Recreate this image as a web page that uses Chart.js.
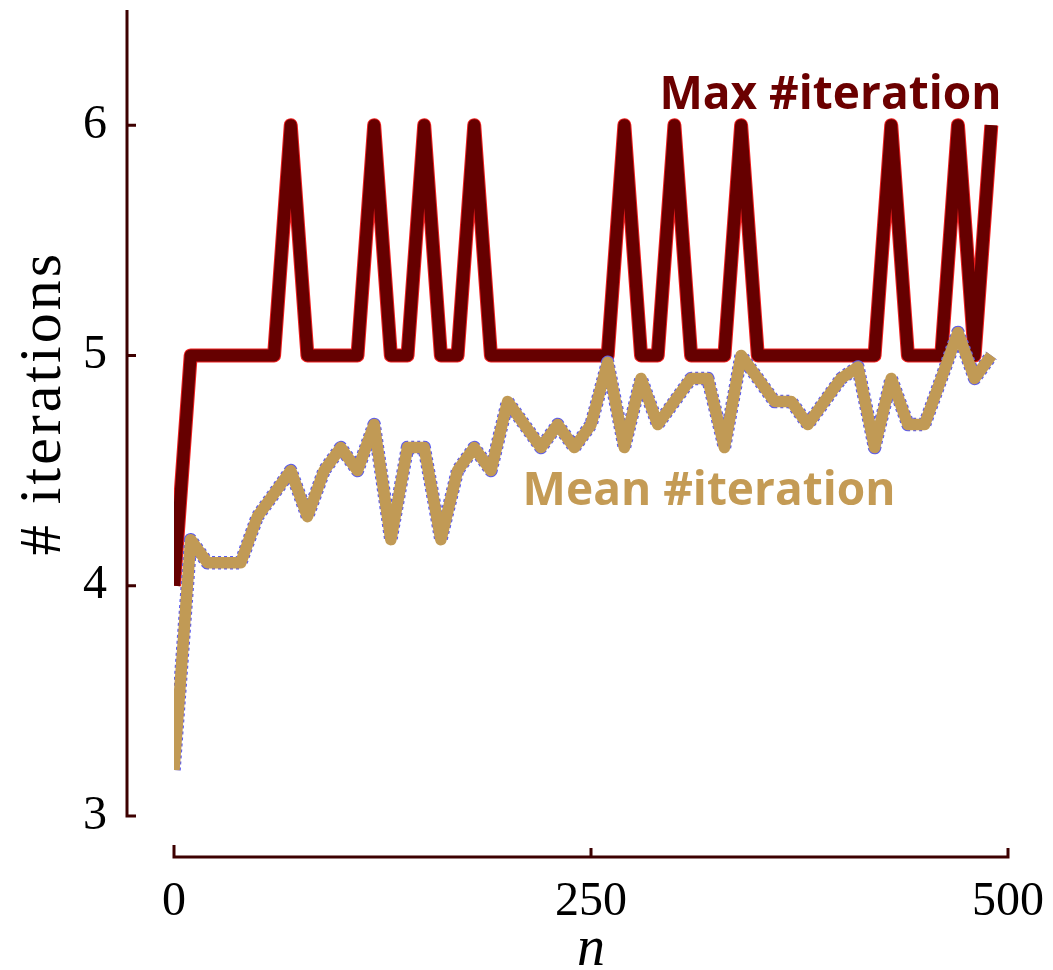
<!DOCTYPE html>
<html>
<head>
	<meta charset="utf-8" />
	<title># iterations</title>
	<script src="https://cdn.jsdelivr.net/npm/chart.js"></script>
	<style>
		html, body { margin: 0; padding: 0; background: #ffffff; }
		#chart { display: block; }
	</style>
</head>
<body>
	<canvas id="chart" width="1053" height="970"></canvas>
	<script>
		// values
		const nValues = [0, 10, 20, 30, 40, 50, 60, 70, 80, 90,
			100, 110, 120, 130, 140, 150, 160, 170, 180, 190,
			200, 210, 220, 230, 240, 250, 260, 270, 280, 290,
			300, 310, 320, 330, 340, 350, 360, 370, 380, 390,
			400, 410, 420, 430, 440, 450, 460, 470, 480, 490];
		const maxIter = [4, 5, 5, 5, 5, 5, 5, 6, 5, 5,
			5, 5, 6, 5, 5, 6, 5, 5, 6, 5,
			5, 5, 5, 5, 5, 5, 5, 6, 5, 5,
			6, 5, 5, 5, 6, 5, 5, 5, 5, 5,
			5, 5, 5, 6, 5, 5, 5, 6, 5, 6];
		const meanIter = [3.2, 4.2, 4.1, 4.1, 4.1, 4.3, 4.4, 4.5, 4.3, 4.5,
			4.6, 4.5, 4.7, 4.2, 4.6, 4.6, 4.2, 4.5, 4.6, 4.5,
			4.8, 4.7, 4.6, 4.7, 4.6, 4.7, 4.97, 4.6, 4.9, 4.7,
			4.8, 4.9, 4.9, 4.6, 5.0, 4.9, 4.8, 4.8, 4.7, 4.8,
			4.9, 4.95, 4.6, 4.9, 4.7, 4.7, 4.9, 5.1, 4.9, 5.0];
		const xTicks = [0, 250, 500];
		const yTicks = [3, 4, 5, 6];

		const MAX_COLOR = '#660000';
		const MEAN_COLOR = '#c19a55';
		const AXIS_COLOR = '#3d0000';

		function toPoints(ys) {
			return nValues.map((n, i) => ({ x: n, y: ys[i] }));
		}

		// detached axes, drawn a little away from the data area
		const offsetAxes = {
			id: 'offsetAxes',
			beforeDatasetsDraw(chart) {
				const { ctx, chartArea, scales } = chart;
				const x = scales.x, y = scales.y;
				const axisX = chartArea.left - 47;
				const axisY = chartArea.bottom + 41;
				ctx.save();
				ctx.strokeStyle = AXIS_COLOR;
				ctx.lineWidth = 3;
				ctx.lineCap = 'butt';
				ctx.beginPath();
				ctx.moveTo(axisX, y.top);
				ctx.lineTo(axisX, y.getPixelForValue(yTicks[0]) + 1.5);
				yTicks.forEach(v => {
					const py = y.getPixelForValue(v);
					ctx.moveTo(axisX, py);
					ctx.lineTo(axisX + 9, py);
				});
				ctx.moveTo(x.getPixelForValue(xTicks[0]) - 1.5, axisY);
				ctx.lineTo(x.getPixelForValue(xTicks[xTicks.length - 1]) + 1.5, axisY);
				xTicks.forEach((v, i) => {
					const px = x.getPixelForValue(v);
					ctx.moveTo(px, axisY);
					ctx.lineTo(px, axisY - (i === 0 ? 12 : 9));
				});
				ctx.stroke();
				ctx.restore();
			}
		};

		// y title and in-plot series labels
		const textLayer = {
			id: 'textLayer',
			afterDraw(chart) {
				const { ctx, chartArea, scales } = chart;
				ctx.save();
				ctx.translate(60, (chartArea.top + chartArea.bottom) / 2 - 10);
				ctx.rotate(-Math.PI / 2);
				ctx.font = '60px "Liberation Serif"';
				ctx.letterSpacing = '3px';
				ctx.fillStyle = '#000000';
				ctx.textAlign = 'center';
				ctx.textBaseline = 'alphabetic';
				ctx.fillText('# iterations', 0, 0);
				ctx.restore();

				ctx.save();
				ctx.font = 'bold 46px "Open Sans"';
				ctx.textAlign = 'left';
				ctx.textBaseline = 'alphabetic';
				ctx.fillStyle = '#6b0000';
				ctx.fillText('Max #iteration', scales.x.getPixelForValue(291), scales.y.getPixelForValue(6.07));
				ctx.fillStyle = '#c49b55';
				ctx.fillText('Mean #iteration', scales.x.getPixelForValue(209), scales.y.getPixelForValue(4.35));
				ctx.restore();
			}
		};

		new Chart(document.getElementById('chart'), {
			type: 'line',
			data: {
				datasets: [
					{
						label: 'Mean #iteration',
						data: toPoints(meanIter),
						borderColor: MEAN_COLOR,
						borderWidth: 11.5,
						borderJoinStyle: 'round',
						borderCapStyle: 'butt'
					},
					{
						label: 'mean edge',
						data: toPoints(meanIter),
						borderColor: '#5a5aee',
						borderWidth: 13.5,
						borderDash: [3, 3],
						borderJoinStyle: 'round',
						borderCapStyle: 'butt'
					},
					{
						label: 'Max #iteration',
						data: toPoints(maxIter),
						borderColor: MAX_COLOR,
						borderWidth: 12,
						borderJoinStyle: 'round',
						borderCapStyle: 'butt'
					},
					{
						label: 'max edge',
						data: toPoints(maxIter),
						borderColor: '#ee2020',
						borderWidth: 14,
						borderJoinStyle: 'round',
						borderCapStyle: 'butt'
					}
				]
			},
			options: {
				responsive: false,
				animation: false,
				layout: { padding: { left: 0, top: 10, right: 45, bottom: 0 } },
				elements: {
					point: { radius: 0, hoverRadius: 0 },
					line: { tension: 0, fill: false }
				},
				plugins: {
					legend: { display: false },
					tooltip: { enabled: false }
				},
				scales: {
					x: {
						type: 'linear',
						min: 0,
						max: 500,
						grid: { display: false, drawTicks: false },
						border: { display: false },
						afterBuildTicks(scale) { scale.ticks = xTicks.map(v => ({ value: v })); },
						afterFit(scale) {
							// big tick padding would otherwise shrink the plot area
							scale.height = 154;
							scale.paddingLeft = 0;
							scale.paddingRight = 0;
						},
						ticks: {
							color: '#000000',
							padding: 58,
							maxRotation: 0,
							autoSkip: false,
							font: { family: '"Liberation Serif"', size: 48 }
						},
						title: {
							display: true,
							text: 'n',
							color: '#000000',
							padding: 0,
							font: { family: '"Liberation Serif"', size: 56, style: 'italic', lineHeight: 0.7 }
						}
					},
					y: {
						type: 'linear',
						min: 3,
						max: 6.5,
						grid: { display: false, drawTicks: false },
						border: { display: false },
						afterBuildTicks(scale) { scale.ticks = yTicks.map(v => ({ value: v })); },
						afterFit(scale) {
							scale.width = 174;
							scale.paddingTop = 0;
							scale.paddingBottom = 0;
						},
						ticks: {
							color: '#000000',
							padding: 67,
							font: { family: '"Liberation Serif"', size: 48 }
						}
					}
				}
			},
			plugins: [offsetAxes, textLayer]
		});
	</script>
</body>
</html>
